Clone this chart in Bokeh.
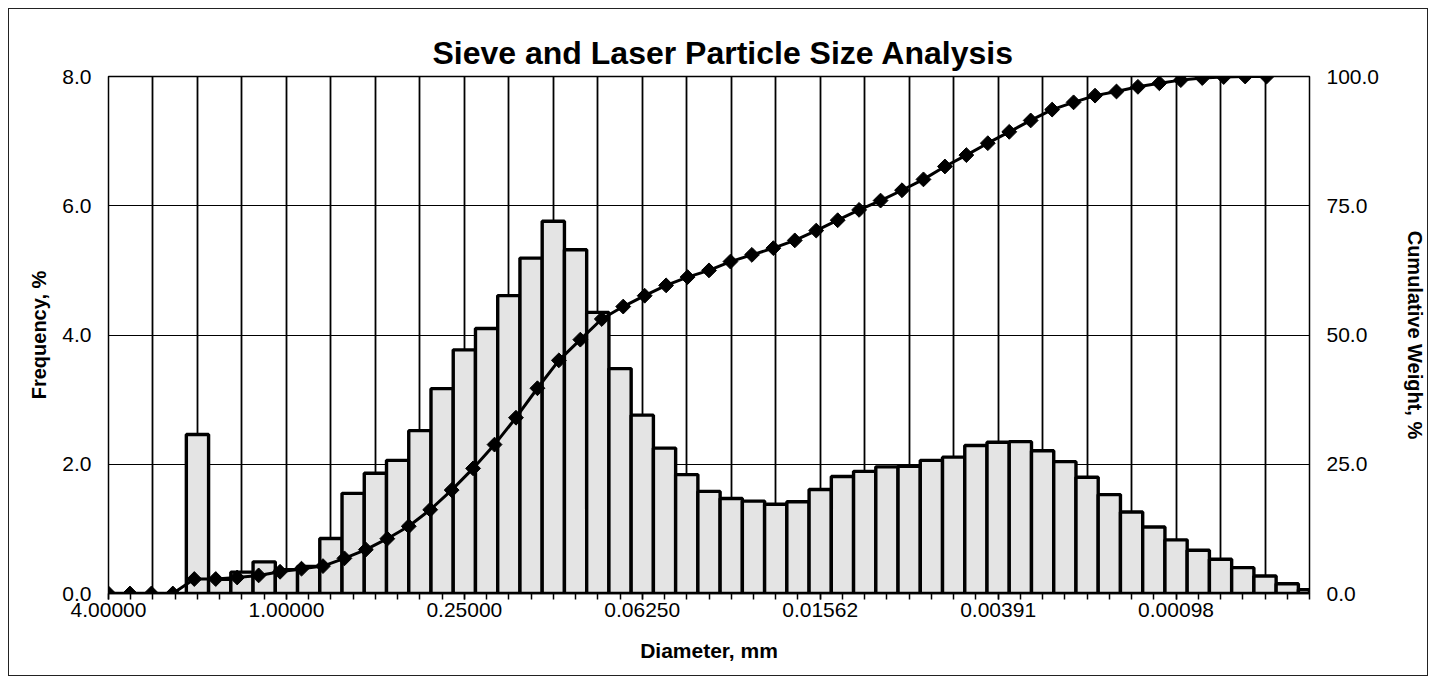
import math
from bokeh.plotting import figure
from bokeh.models import Range1d, LinearAxis, FixedTicker, PrintfTickFormatter
from bokeh.embed import file_html
from bokeh.resources import INLINE

# ---- data ----
categories = list(range(55))  # quarter-phi size classes, 4 mm -> fine clay
frequency = [
    0.0, 0.0, 0.0, 0.0, 2.46, 0.22, 0.33, 0.49, 0.37, 0.42,
    0.85, 1.55, 1.86, 2.06, 2.52, 3.17, 3.77, 4.10, 4.61, 5.19,
    5.76, 5.32, 4.35, 3.48, 2.76, 2.25, 1.84, 1.58, 1.47, 1.43,
    1.38, 1.42, 1.61, 1.81, 1.89, 1.96, 1.97, 2.06, 2.11, 2.29,
    2.34, 2.35, 2.21, 2.04, 1.80, 1.53, 1.26, 1.03, 0.83, 0.67,
    0.53, 0.40, 0.27, 0.15, 0.06,
]
cum_index = list(range(55))
cumulative = [
    0.0, 0.0, 0.0, 0.0, 2.8, 2.8, 3.1, 3.5, 4.2, 4.8,
    5.3, 6.8, 8.5, 10.6, 13.0, 16.2, 20.0, 24.2, 28.8, 34.0,
    39.7, 45.1, 49.1, 53.1, 55.5, 57.6, 59.6, 61.2, 62.5, 64.2,
    65.5, 66.8, 68.3, 70.2, 72.2, 74.2, 76.0, 78.0, 80.1, 82.6,
    84.8, 87.1, 89.3, 91.5, 93.6, 95.0, 96.3, 97.1, 98.0, 98.7,
    99.3, 99.7, 99.9, 100.0, 100.0,
]
tick_positions = [0, 8, 16, 24, 32, 40, 48]
tick_labels = ["4.00000", "1.00000", "0.25000", "0.06250", "0.01562", "0.00391", "0.00098"]
freq_ticks = [0, 2, 4, 6, 8]
cum_ticks = [0, 25, 50, 75, 100]

FONT = "Liberation Sans"

p = figure(
    width=1420, height=668,
    output_backend="svg", toolbar_location=None,
    x_range=Range1d(0, 54), y_range=Range1d(0, 8),
    min_border_left=99, min_border_right=119,
    min_border_top=67, min_border_bottom=84,
    title="Sieve and Laser Particle Size Analysis",
)
p.styles = {"margin": "8px 0 0 8px", "border": "1px solid #222"}
p.extra_y_ranges = {"cum": Range1d(0, 100)}
p.extra_x_ranges = {"cumx": Range1d(0, 56)}

p.background_fill_color = "white"
p.border_fill_color = "white"
p.outline_line_color = "black"
p.outline_line_width = 1.5

p.title.text_font = FONT
p.title.text_font_size = "32px"
p.title.text_font_style = "bold"
p.title.text_color = "black"
p.title.align = "left"
p.title.offset = 324
p.title.standoff = 12

# grids
p.xgrid.ticker = FixedTicker(ticks=list(range(0, 55, 2)))
p.xgrid.grid_line_color = "black"
p.xgrid.grid_line_width = 1.8
p.ygrid.ticker = FixedTicker(ticks=[2, 4, 6])
p.ygrid.grid_line_color = "black"
p.ygrid.grid_line_width = 1.2

# x axis
xa = p.xaxis[0]
xa.ticker = FixedTicker(ticks=tick_positions, minor_ticks=categories)
xa.major_label_overrides = {k: v for k, v in zip(tick_positions, tick_labels)}
xa.major_tick_in = 0
xa.major_tick_out = 6
xa.minor_tick_in = 0
xa.minor_tick_out = 6
xa.major_tick_line_width = 1.5
xa.minor_tick_line_width = 1.5
xa.major_tick_line_color = "black"
xa.minor_tick_line_color = "black"
xa.axis_line_color = "black"
xa.axis_line_width = 1.5
xa.major_label_text_font = FONT
xa.major_label_text_font_size = "21px"
xa.major_label_text_color = "black"
xa.major_label_standoff = 3
xa.axis_label = "Diameter, mm"
xa.axis_label_text_font = FONT
xa.axis_label_text_font_size = "21px"
xa.axis_label_text_font_style = "bold"
xa.axis_label_text_color = "black"
xa.axis_label_standoff = 19

# left y axis
ya = p.yaxis[0]
ya.ticker = FixedTicker(ticks=freq_ticks)
ya.formatter = PrintfTickFormatter(format="%.1f")
ya.major_tick_in = 0
ya.major_tick_out = 0
ya.minor_tick_line_color = None
ya.axis_line_color = "black"
ya.major_label_text_font = FONT
ya.major_label_text_font_size = "21px"
ya.major_label_text_color = "black"
ya.major_label_standoff = 17
ya.axis_label = "Frequency, %"
ya.axis_label_text_font = FONT
ya.axis_label_text_font_size = "20px"
ya.axis_label_text_font_style = "bold"
ya.axis_label_text_color = "black"
ya.axis_label_standoff = 9

# right y axis
ra = LinearAxis(y_range_name="cum", ticker=FixedTicker(ticks=cum_ticks),
                formatter=PrintfTickFormatter(format="%.1f"))
ra.major_tick_in = 0
ra.major_tick_out = 0
ra.minor_tick_line_color = None
ra.axis_line_color = "black"
ra.major_label_text_font = FONT
ra.major_label_text_font_size = "21px"
ra.major_label_text_color = "black"
ra.major_label_standoff = 17
ra.axis_label = "Cumulative Weight, %"
ra.axis_label_text_font = FONT
ra.axis_label_text_font_size = "20px"
ra.axis_label_text_font_style = "bold"
ra.axis_label_text_color = "black"
ra.axis_label_standoff = 22
p.add_layout(ra, "right")

# bars
p.vbar(x=categories, top=frequency, width=1.0, bottom=0,
       fill_color="#e4e4e4", line_color="black", line_width=3.4)

# cumulative curve
p.line(cum_index, cumulative, x_range_name="cumx", y_range_name="cum",
       line_color="black", line_width=3)
p.scatter(cum_index, cumulative, x_range_name="cumx", y_range_name="cum",
          marker="square", angle=math.pi / 4, size=10.5,
          fill_color="black", line_color="black")

open("out.html", "w").write(file_html(p, INLINE))
